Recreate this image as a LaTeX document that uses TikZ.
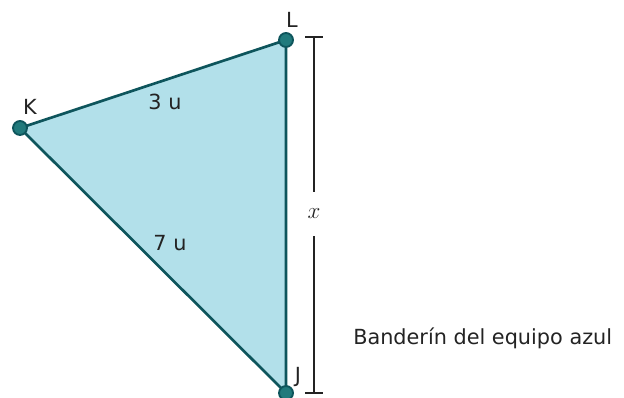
\documentclass[tikz,border=0pt]{standalone}
\usepackage{fontspec}
\setmainfont{DejaVu Sans}
\usepackage{xcolor}
\usetikzlibrary{arrows.meta}
\definecolor{flagfill}{RGB}{178,224,234}
\definecolor{flagedge}{RGB}{14,85,92}
\definecolor{vertfill}{RGB}{33,122,124}
\definecolor{inkgray}{RGB}{35,35,35}
\tikzset{vert/.style={circle,fill=vertfill,draw=flagedge,line width=1.4pt,inner sep=0pt,minimum size=10.5pt},
  lbl/.style={font=\fontsize{15.6}{18}\selectfont,text=inkgray,inner sep=0pt},
  dimline/.style={draw=inkgray,line width=1.8pt}}

\begin{document}
\begin{tikzpicture}[x=0.75pt,y=-0.75pt]
\useasboundingbox (0,0) rectangle (624,398);
\coordinate (K) at (20,128);
\coordinate (L) at (286,40);
\coordinate (J) at (286,393);
% the flag
\filldraw[fill=flagfill,draw=flagedge,line width=2pt,line join=round] (K) -- (L) -- (J) -- cycle;
\node[vert] (Kdot) at (K) {};
\node[vert] (Ldot) at (L) {};
\node[vert] (Jdot) at (J) {};
\node[lbl] (Klab) at (30,107) {K};
\node[lbl] (Llab) at (292,20) {L};
\node[lbl] (Jlab) at (298,377) {J};
\node[lbl] (KL) at (165,102) {3 u};
\node[lbl] (KJ) at (170,243) {7 u};
% height of the flag
\coordinate (xtop) at (314,37);
\coordinate (xbot) at (314,393);
\node[inner sep=0pt,minimum height=33pt,text=inkgray,font=\fontsize{19}{21}\selectfont] (xlab) at (314,214) {$x$};
\path[dimline] (xtop) edge (xlab.north) (xlab.south) edge (xbot);
\path[dimline] ([xshift=-6.75pt]xtop) edge ([xshift=6.75pt]xtop)
  ([xshift=-6.75pt]xbot) edge ([xshift=6.75pt]xbot);
\node[lbl,anchor=base west] (cap) at (353,345) {Banderín del equipo azul};
\end{tikzpicture}
\end{document}
